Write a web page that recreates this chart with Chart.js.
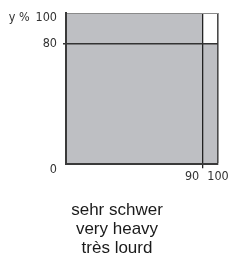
<!DOCTYPE html>
<html>
<head>
<meta charset="utf-8">
<script src="https://cdn.jsdelivr.net/npm/chart.js@4/dist/chart.umd.min.js"></script>
<style>
html,body{margin:0;padding:0;background:#fff;}
canvas{display:block;}
</style>
</head>
<body>
<canvas id="c" width="242" height="259"></canvas>
<script>
// Area of the heavy-load region (x %, y %)
const areaX = [0, 90, 90, 100];
const areaY = [100, 100, 80, 80];
// Axis ticks and labels
const yTicks = [0, 80, 100];
const yTickLabels = [['', '0'], '80', ['', 'y % \u2009100']];
const xTicks = [90, 100];
const xTickLabels = ['90\u2007\u2007\u2007', '100'];
// Caption
const caption = ['sehr schwer', 'very heavy', 'très lourd'];

const narrow = "'Liberation Sans Narrow', 'DejaVu Sans Condensed', sans-serif";

new Chart(document.getElementById('c'), {
  type: 'line',
  data: {
    datasets: [{
      data: areaX.map((x, i) => ({x: x, y: areaY[i]})),
      backgroundColor: '#bebfc3',
      borderWidth: 0,
      pointRadius: 0,
      fill: 'origin',
      tension: 0
    }]
  },
  options: {
    responsive: false,
    devicePixelRatio: 1,
    animation: false,
    layout: {padding: {top: 13, left: 0, right: 8, bottom: 0}},
    plugins: {
      legend: {display: false},
      tooltip: {enabled: false},
      title: {
        display: true,
        position: 'bottom',
        text: caption,
        color: '#1a1a1a',
        font: {family: "'Liberation Sans', Arial, sans-serif", size: 17, weight: 'normal', lineHeight: 1.13},
        padding: {top: 0, bottom: 1}
      }
    },
    scales: {
      x: {
        type: 'linear',
        min: 0, max: 100,
        z: 1,
        afterBuildTicks: s => { s.ticks = xTicks.map(v => ({value: v})); },
        afterFit: s => { s.height = 36; s.paddingLeft = 0; s.paddingRight = 0; },
        border: {display: true, color: '#3a3a3a', width: 2, z: 2},
        grid: {
          z: 1,
          drawTicks: true,
          tickLength: 4,
          color: c => c.tick && c.tick.value === 90 ? '#222222' : (c.tick && c.tick.value === 100 ? '#4a4a4a' : 'rgba(0,0,0,0)'),
          lineWidth: c => c.tick && c.tick.value === 90 ? 1.3 : 1.6,
          tickColor: c => c.tick && c.tick.value === 90 ? '#222222' : 'rgba(0,0,0,0)',
          tickWidth: 1.3
        },
        ticks: {
          autoSkip: false,
          maxRotation: 0,
          padding: 1,
          color: '#333',
          font: {family: narrow, size: 12.5},
          callback: (v, i) => xTickLabels[xTicks.indexOf(v)]
        }
      },
      y: {
        type: 'linear',
        min: 0, max: 100,
        z: 1,
        afterBuildTicks: s => { s.ticks = yTicks.map(v => ({value: v})); },
        afterFit: s => { s.width = 66; s.paddingTop = 0; s.paddingBottom = 0; },
        border: {display: true, color: '#3a3a3a', width: 2, z: 2},
        grid: {
          z: 1,
          drawTicks: true,
          tickLength: 3,
          color: c => c.tick && c.tick.value === 80 ? '#333333' : (c.tick && c.tick.value === 100 ? '#8a8a8a' : 'rgba(0,0,0,0)'),
          lineWidth: c => c.tick && c.tick.value === 80 ? 1.5 : 1,
          tickColor: c => c.tick && c.tick.value === 80 ? '#333333' : 'rgba(0,0,0,0)',
          tickWidth: 1.5
        },
        ticks: {
          autoSkip: false,
          padding: 6,
          color: '#333',
          font: {family: narrow, size: 12.5, lineHeight: '10px'},
          callback: (v) => yTickLabels[yTicks.indexOf(v)]
        }
      },
      y2: {
        type: 'linear',
        position: 'right',
        min: 0, max: 1,
        display: true,
        grid: {display: false, drawTicks: false},
        border: {display: false},
        ticks: {display: false},
        afterFit: s => { s.width = 16; s.paddingTop = 0; s.paddingBottom = 0; }
      }
    }
  }
});
</script>
</body>
</html>
